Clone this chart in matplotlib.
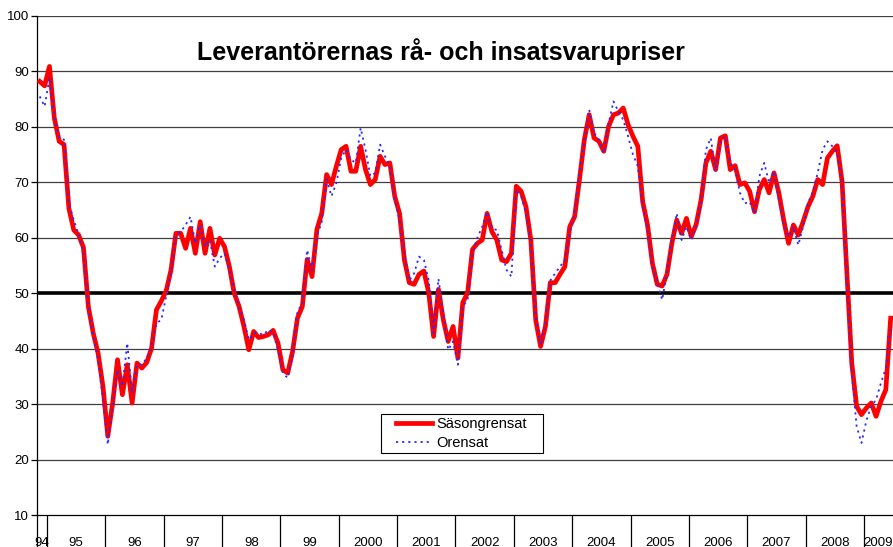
import matplotlib.pyplot as plt
from matplotlib.patches import Rectangle
import numpy as np

# Monthly index, Nov 1994 .. Jun 2009
sasongrensat = [88.2, 87.4,
    90.9, 81.6, 77.4, 76.8, 65.3, 61.4, 60.5, 58.2, 47.6, 42.8, 39.2, 33.2,
    24.2, 30.2, 38.0, 31.7, 37.1, 30.2, 37.4, 36.5, 37.5, 40.1, 47.0, 48.6,
    50.4, 54.2, 60.8, 60.8, 58.1, 61.7, 57.2, 62.9, 57.2, 61.7, 56.9, 59.9,
    58.4, 54.8, 50.0, 47.6, 44.0, 39.8, 43.1, 42.0, 42.2, 42.5, 43.3, 41.0,
    36.2, 35.6, 39.5, 45.5, 47.6, 56.1, 53.0, 61.5, 64.4, 71.4, 69.6, 72.9,
    75.9, 76.5, 72.0, 72.0, 76.5, 72.3, 69.6, 70.5, 74.7, 73.2, 73.5, 67.5,
    64.4, 56.0, 51.9, 51.6, 53.4, 54.0, 50.1, 42.2, 50.7, 45.2, 41.3, 44.0,
    38.3, 48.3, 50.1, 57.9, 59.0, 59.6, 64.4, 61.1, 59.6, 56.0, 55.7, 57.2,
    69.3, 68.4, 65.6, 59.6, 45.2, 40.4, 44.0, 51.9, 51.9, 53.4, 54.8, 62.0,
    63.8, 70.5, 77.7, 82.2, 78.0, 77.4, 75.6, 80.1, 82.2, 82.5, 83.4, 80.4,
    78.3, 76.5, 66.5, 62.3, 55.4, 51.6, 51.3, 53.4, 59.0, 63.2, 60.8, 63.5,
    60.2, 62.4, 66.8, 73.5, 75.6, 72.3, 78.0, 78.4, 72.3, 73.0, 69.6, 69.9,
    68.4, 64.7, 68.7, 70.5, 68.1, 71.7, 68.1, 63.2, 59.0, 62.3, 60.5, 62.9,
    65.6, 67.5, 70.5, 69.6, 74.4, 75.6, 76.6, 70.2, 53.6, 37.4, 29.6, 28.1,
    29.3, 30.2, 27.8, 30.5, 32.6, 45.5]

orensat = [85.5, 83.7,
    88.8, 81.9, 78.0, 77.7, 66.2, 63.2, 60.5, 57.2, 47.6, 42.2, 38.0, 30.8,
    22.7, 29.6, 36.2, 33.2, 41.0, 32.0, 37.1, 37.1, 38.3, 40.4, 44.6, 45.2,
    49.5, 53.7, 60.2, 61.1, 62.3, 63.8, 59.0, 62.3, 58.4, 59.6, 54.8, 56.3,
    57.2, 54.2, 50.7, 47.6, 45.2, 41.6, 42.8, 42.8, 42.5, 43.4, 42.8, 39.8,
    35.6, 34.7, 38.6, 46.7, 48.2, 57.8, 54.2, 60.2, 62.9, 70.5, 67.5, 69.9,
    74.4, 75.9, 74.1, 73.5, 79.8, 75.9, 71.1, 71.7, 76.8, 74.7, 72.9, 66.8,
    63.2, 57.2, 52.3, 53.6, 56.6, 56.0, 52.3, 42.8, 52.6, 46.4, 39.8, 41.3,
    37.1, 47.6, 48.8, 57.2, 60.0, 62.0, 64.7, 61.7, 61.4, 57.8, 54.2, 53.0,
    68.7, 67.5, 64.4, 59.0, 45.8, 40.7, 44.6, 52.3, 53.6, 54.8, 56.0, 60.8,
    64.4, 71.7, 77.7, 83.1, 78.9, 77.7, 75.3, 80.7, 84.6, 82.8, 81.3, 78.3,
    75.0, 72.9, 65.6, 61.4, 54.8, 51.9, 48.8, 53.6, 59.6, 64.4, 59.6, 62.0,
    59.6, 62.0, 66.2, 75.9, 78.0, 72.0, 77.4, 78.3, 73.5, 72.3, 68.1, 66.2,
    66.5, 64.4, 71.1, 73.5, 69.9, 72.0, 66.8, 62.6, 60.2, 62.0, 58.7, 62.0,
    66.2, 68.4, 71.7, 75.9, 77.4, 76.5, 75.3, 69.9, 52.4, 35.6, 26.0, 23.0,
    27.0, 29.6, 30.8, 33.8, 36.5, 43.5]

year_labels = ['94', '95', '96', '97', '98', '99', '2000', '2001', '2002',
               '2003', '2004', '2005', '2006', '2007', '2008', '2009']
months_per_year = [2] + [12] * 14 + [6]

plt.rcParams['font.family'] = ['Liberation Sans', 'DejaVu Sans']

x = np.arange(len(sasongrensat))

fig = plt.figure(figsize=(8.93, 5.47), dpi=100)
# axes run past the right edge of the picture, like the cropped original
ax = fig.add_axes([37.3 / 893, 1 - 515 / 547, 180 * 4.8625 / 893, 499 / 547])

for v in range(20, 101, 10):
    if v != 50:
        ax.axhline(v, color='#404040', lw=0.9, zorder=1)
ax.axhline(50, color='black', lw=2.6, zorder=2)

ax.plot(x, sasongrensat, color='#ff0000', lw=3.4, label='Säsongrensat', zorder=3)
ax.plot(x, orensat, color='#2b2bff', lw=1.3, ls=(0, (1.2, 2.2)), label='Orensat', zorder=4)

ax.set_xlim(-0.5, 179.5)
ax.set_ylim(10, 100)
ax.set_yticks(range(10, 101, 10))
ax.tick_params(axis='y', direction='out', length=4, width=0.9, labelsize=9.5, pad=2)

# year separators hanging below the axis, labels centred in each year
edges = np.concatenate([[0], np.cumsum(months_per_year)]) - 0.5
ax.set_xticks(edges[:-1])
ax.set_xticklabels([])
ax.tick_params(axis='x', which='major', direction='out', length=40, width=0.9)
centres = (edges[:-1] + edges[1:]) / 2
ax.set_xticks(centres, minor=True)
ax.set_xticklabels(year_labels, minor=True)
ax.tick_params(axis='x', which='minor', length=0, labelsize=9.5, pad=15.5)

for s in ['top', 'right']:
    ax.spines[s].set_visible(False)
ax.spines['left'].set_linewidth(0.9)
ax.spines['bottom'].set_linewidth(0.9)

fig.text(441 / 893, 1 - 52 / 547, 'Leverantörernas rå- och insatsvarupriser',
         ha='center', va='center', fontsize=18, fontweight='bold')

# legend box drawn by hand: wide side margins, tight top/bottom
box = Rectangle((381 / 893, 1 - 453 / 547), 162 / 893, 39 / 547,
                transform=fig.transFigure, facecolor='white', edgecolor='black',
                lw=0.8, clip_on=False, zorder=5)
ax.add_patch(box)
leg = ax.legend(loc='upper left', bbox_to_anchor=(396 / 893, 1 - 417 / 547),
                bbox_transform=fig.transFigure, fontsize=10.5, frameon=False,
                handlelength=2.5, handletextpad=0.25, borderpad=0,
                labelspacing=0.35, borderaxespad=0)
leg.set_zorder(6)

plt.savefig('out.png', dpi=100)
